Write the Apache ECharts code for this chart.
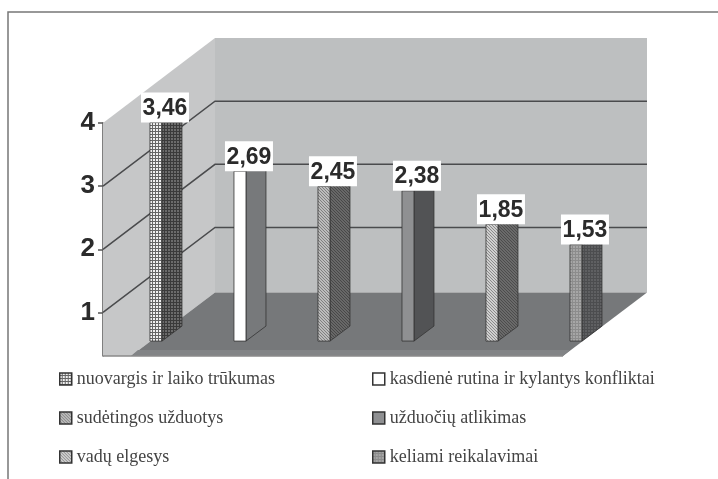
<!DOCTYPE html>
<html>
<head>
<meta charset="utf-8">
<style>
  html, body { margin: 0; padding: 0; background: #fff; }
  #chart { width: 718px; height: 479px; }
</style>
<script src="https://cdn.jsdelivr.net/npm/echarts@6/dist/echarts.min.js"></script>
</head>
<body>
<div id="chart"></div>
<script>
const categories = [
  'nuovargis ir laiko trūkumas',
  'kasdienė rutina ir kylantys konfliktai',
  'sudėtingos užduotys',
  'užduočių atlikimas',
  'vadų elgesys',
  'keliami reikalavimai'
];
const values = [3.46, 2.69, 2.45, 2.38, 1.85, 1.53];
const yTicks = [1, 2, 3, 4];

// fake 3d: how far the back wall sits from the axis plane
const DEPTH_X = 112, DEPTH_Y = 85;
const AXIS_OFFSET = 7.5, WALL_W = 432;
const BAR_T = 0.406, BAR_W = 12, SIDE_X = 20, SIDE_Y = 15;

// tiny tile: bg colour plus a list of [x, y, w, h, colour]
function tile(size, bg, rects) {
  const c = document.createElement('canvas');
  c.width = c.height = size;
  const g = c.getContext('2d');
  g.fillStyle = bg;
  g.fillRect(0, 0, size, size);
  rects.forEach(r => { g.fillStyle = r[4]; g.fillRect(r[0], r[1], r[2], r[3]); });
  return { image: c, repeat: 'repeat' };
}
function gridTile(bg, line) {
  return tile(3, bg, [[0, 2, 3, 1, line], [2, 0, 1, 3, line]]);
}
function ditherTile(bg, dot) {
  return tile(3, bg, [[0, 0, 1, 1, dot], [1, 1, 1, 1, dot], [2, 2, 1, 1, dot]]);
}
const frontFill = [
  gridTile('#f0f0f0', '#666666'),
  '#ffffff',
  ditherTile('#bcbcbc', '#808080'),
  '#8f9092',
  ditherTile('#d0d0d0', '#8a8a8a'),
  gridTile('#a6a6a6', '#8c8c8c')
];
const sideFill = [
  gridTile('#6b6b6b', '#3a3a3a'),
  '#77797b',
  ditherTile('#686868', '#484848'),
  '#525355',
  ditherTile('#6a6a6a', '#4c4c4c'),
  gridTile('#5f6062', '#4c4d4f')
];

function renderWalls(params, api) {
  const top = api.coord([0, 4]);
  const axisBottom = api.coord([0, 0.31])[1];
  const zeroY = api.coord([0, 0])[1];
  const x0 = top[0] - AXIS_OFFSET;
  const backX = x0 + DEPTH_X;
  const backTop = top[1] - DEPTH_Y;
  const floorBack = zeroY - DEPTH_Y + 2;
  const floorFrontL = x0 + 28;
  const children = [
    { type: 'polygon', shape: { points: [[backX, backTop], [backX + WALL_W, backTop], [backX + WALL_W, floorBack], [backX, floorBack]] }, style: { fill: '#bdbfc0' } },
    { type: 'polygon', shape: { points: [[x0, top[1]], [backX, backTop], [backX, floorBack], [floorFrontL, axisBottom], [x0, axisBottom]] }, style: { fill: '#c6c7c8' } },
    { type: 'polygon', shape: { points: [[backX, floorBack], [backX + WALL_W, floorBack], [floorFrontL + WALL_W, axisBottom], [floorFrontL, axisBottom]] }, style: { fill: '#76787a' } },
    { type: 'polygon', shape: { points: [[floorFrontL + 7, axisBottom - 6], [floorFrontL + WALL_W + 7, axisBottom - 6], [floorFrontL + WALL_W, axisBottom], [floorFrontL, axisBottom]] }, style: { fill: '#828486' } },
    { type: 'line', shape: { x1: x0, y1: axisBottom, x2: floorFrontL + WALL_W, y2: axisBottom }, style: { stroke: '#8a8a8a', lineWidth: 1.5 } }
  ];
  yTicks.forEach(v => {
    const y = api.coord([0, v])[1];
    if (v < 4) {
      children.push({
        type: 'polyline',
        shape: { points: [[x0, y], [backX, y - DEPTH_Y], [backX + WALL_W, y - DEPTH_Y]] },
        style: { fill: null, stroke: '#4a4b4d', lineWidth: 1.5 }
      });
    }
  });
  return { type: 'group', children: children };
}

function renderBar(idx) {
  return function (params, api) {
    const p0 = api.coord([api.value(0), 0]);
    const p1 = api.coord([api.value(0), api.value(1)]);
    const left = p0[0] + BAR_T * DEPTH_X - BAR_W / 2;
    const right = left + BAR_W;
    const bottom = p0[1] - BAR_T * DEPTH_Y;
    const top = p1[1] - BAR_T * DEPTH_Y;
    const edge = { stroke: '#333333', lineWidth: 0.8 };
    return {
      type: 'group',
      children: [
        { type: 'polygon', shape: { points: [[right, bottom], [right + SIDE_X, bottom - SIDE_Y], [right + SIDE_X, top - SIDE_Y], [right, top]] }, style: Object.assign({ fill: sideFill[idx] }, edge) },
        { type: 'rect', shape: { x: left, y: top, width: BAR_W, height: bottom - top }, style: Object.assign({ fill: frontFill[idx] }, edge) },
        { type: 'rect', shape: { x: left - 9, y: top - 30, width: 48, height: 30 }, style: { fill: '#ffffff' } },
        {
          type: 'text',
          style: {
            x: left + 15, y: top - 14,
            text: String(api.value(1)).replace('.', ','),
            fill: '#2b2b2b',
            font: 'bold 23px "Liberation Sans"',
            align: 'center', verticalAlign: 'middle'
          }
        }
      ]
    };
  };
}

const series = [{
  type: 'custom', name: 'walls', z: 1, silent: true,
  renderItem: renderWalls, data: [[0, 0]], encode: { x: 0, y: 1 }
}];
categories.forEach((name, i) => {
  series.push({
    type: 'custom', name: name, z: 2 + i, silent: true,
    renderItem: renderBar(i),
    data: [[i, values[i]]],
    encode: { x: 0, y: 1 }
  });
});

function legendItems(ids) {
  return ids.map(i => ({
    name: categories[i],
    icon: 'rect',
    itemStyle: { color: frontFill[i], borderColor: '#333333', borderWidth: 1.5 }
  }));
}
function legendCol(left, ids) {
  return {
    orient: 'vertical', left: left, top: 370,
    itemWidth: 12, itemHeight: 12, itemGap: 21,
    selectedMode: false, padding: 0,
    textStyle: { fontFamily: 'Liberation Serif', fontSize: 18, color: '#444444' },
    data: legendItems(ids)
  };
}

const chart = echarts.init(document.getElementById('chart'), null, { renderer: 'canvas' });
chart.setOption({
  animation: false,
  backgroundColor: '#ffffff',
  grid: { left: 110.5, width: 420, top: 123, height: 233 },
  xAxis: { type: 'category', data: categories, boundaryGap: false, show: false },
  yAxis: {
    type: 'value', min: 0.31, max: 4, offset: AXIS_OFFSET,
    axisLine: { show: true, lineStyle: { color: '#555555', width: 1.5 } },
    axisTick: { show: true, length: 5, customValues: yTicks, lineStyle: { color: '#555555', width: 1.5 } },
    axisLabel: {
      customValues: yTicks, margin: 8,
      fontFamily: 'Liberation Sans', fontWeight: 'bold', fontSize: 26, color: '#2b2b2b'
    },
    splitLine: { show: false }
  },
  legend: [legendCol(59, [0, 2, 4]), legendCol(372, [1, 3, 5])],
  graphic: [
    { type: 'polyline', silent: true, shape: { points: [[8, 479], [8, 12], [718, 12]] }, style: { fill: null, stroke: '#777777', lineWidth: 1.5 } }
  ],
  series: series
});
</script>
</body>
</html>
